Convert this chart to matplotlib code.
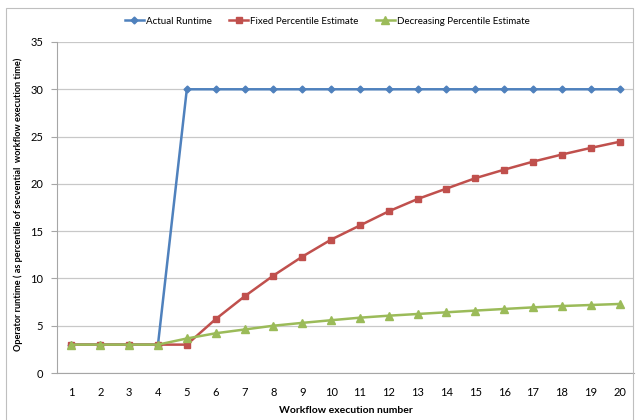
import matplotlib
matplotlib.use("Agg")
import matplotlib.pyplot as plt
from matplotlib.patches import Rectangle

plt.rcParams['font.family'] = ['Lato', 'DejaVu Sans']

runs = list(range(1, 21))
actual = [3, 3, 3, 3] + [30] * 16
fixed = [3, 3, 3, 3, 3, 5.7, 8.1, 10.3, 12.3, 14.1, 15.6, 17.1, 18.4, 19.5,
         20.6, 21.5, 22.35, 23.1, 23.8, 24.45]
decreasing = [3, 3, 3, 3, 3.65, 4.2, 4.6, 5.0, 5.3, 5.58, 5.85, 6.06, 6.24,
              6.42, 6.6, 6.77, 6.94, 7.08, 7.19, 7.3]
yticks = [0, 5, 10, 15, 20, 25, 30, 35]

fig = plt.figure(figsize=(6.37, 4.2), dpi=100)
fig.patches.append(Rectangle((6 / 637, -0.1), 627 / 637, 1 - 8 / 420 + 0.1,
                             transform=fig.transFigure, fill=False,
                             edgecolor='#bfbfbf', linewidth=0.8))
ax = fig.add_axes([57 / 637, 47 / 420, 577 / 637, 331 / 420])

ax.plot(runs, actual, '-D', color='#4F81BD', markersize=3.5, linewidth=1.8,
        label='Actual Runtime')
ax.plot(runs, fixed, '-s', color='#C0504D', markersize=5, linewidth=1.8,
        label='Fixed Percentile Estimate')
ax.plot(runs, decreasing, '-^', color='#9BBB59', markersize=5.5, linewidth=1.8,
        label='Decreasing Percentile Estimate')

ax.set_xlim(0.5, 20.5)
ax.set_ylim(0, 35)
ax.set_yticks(yticks)
ax.set_xticks(runs)
ax.yaxis.grid(True, color='#c8c8c8', linewidth=0.9)
ax.set_axisbelow(True)
for s in ['top', 'right']:
    ax.spines[s].set_visible(False)
ax.spines['left'].set_color('#a6a6a6')
ax.spines['bottom'].set_color('#a6a6a6')
ax.tick_params(axis='y', length=4, color='#a6a6a6', labelsize=8, pad=6)
ax.tick_params(axis='x', length=0, labelsize=8, pad=10)

ax.set_xlabel('Workflow execution number', fontsize=7.5, fontweight='bold',
              labelpad=6)
ax.set_ylabel('Operator runtime ( as percentile of secvential  workflow execution time)',
              fontsize=6.6, fontweight='bold')
ax.yaxis.set_label_coords(20 / 637 - 57 / 637, (204 - 47) / 331 * 0 + (420 - 204 - 47) / 331)

fig.legend(loc='center', bbox_to_anchor=(327 / 637, 1 - 21 / 420), ncol=3,
           frameon=False, fontsize=7, handlelength=2.0, handletextpad=0.15,
           columnspacing=1.8)

fig.savefig('out.png', dpi=100)
